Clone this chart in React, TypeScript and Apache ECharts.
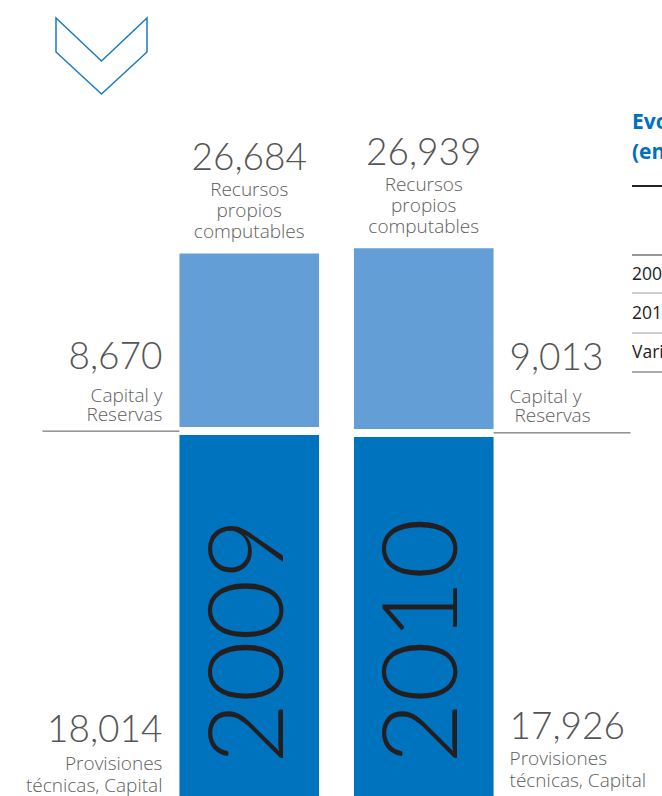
import React, { useEffect, useRef } from "react";
import * as echarts from "echarts";

const years = ["2009", "2010"];
const provisiones = [18014, 17926];
const capitalReservas = [8670, 9013];
const totalLabel = "Recursos\npropios\ncomputables";
const capitalLabels = ["Capital y\nReservas", "Capital y\n Reservas"];
const provLabel = "Provisiones\ntécnicas, Capital";
const tableTitle = ["Evolución del margen de solvencia", "(en millones de euros)"];
const tableRows = ["2009", "2010", "Variación"];

const DARK = "#0073BF";
const LIGHT = "#639FD6";
const NUM = "#555555";
const LAB = "#5e5e5e";
const FONT = "Lato";
const LFONT = "Open Sans";

const fmt = (v: number) => v.toLocaleString("en-US");

export default function App() {
  const ref = useRef<HTMLDivElement>(null);
  useEffect(() => {
    if (!ref.current) return;
    const chart = echarts.init(ref.current, undefined, { renderer: "svg" });
    const renderItem = (params: any, api: any) => {
      const idx = api.value(0);
      const dark = api.value(1);
      const light = api.value(2);
      const base = api.coord([idx, 0]);
      const cx = base[0];
      const B = base[1];
      const D = api.coord([idx, dark])[1];
      const T = api.coord([idx, dark + light])[1];
      const bw = api.size([1, 0])[0] * 0.8;
      const gap = 8;
      const G = D - gap / 2;
      const lightTop = T - gap;
      const isLeft = idx === 0;
      const sideX = isLeft ? cx - bw / 2 - 17 : cx + bw / 2 + 16;
      const align = isLeft ? "right" : "left";
      const lx1 = isLeft ? cx - bw / 2 - 137 : cx + bw / 2;
      const lx2 = isLeft ? cx - bw / 2 : cx + bw / 2 + 137;
      const numStyle = (text: string) => ({
        text,
        fill: NUM,
        fontFamily: FONT,
        fontWeight: 300,
        fontSize: 37,
      });
      const labStyle = (text: string, lh: number) => ({
        text,
        fill: LAB,
        fontFamily: LFONT,
        fontWeight: 300,
        fontSize: 19,
        lineHeight: lh,
      });
      return {
        type: "group",
        children: [
          {
            type: "rect",
            shape: { x: cx - bw / 2, y: D, width: bw, height: B - D },
            style: { fill: DARK },
          },
          {
            type: "rect",
            shape: { x: cx - bw / 2, y: lightTop, width: bw, height: D - gap - lightTop },
            style: { fill: LIGHT },
          },
          {
            type: "line",
            shape: { x1: lx1, y1: G, x2: lx2, y2: G },
            style: { stroke: "#555555", lineWidth: 1 },
          },
          {
            type: "text",
            x: cx,
            y: lightTop - 98,
            style: { ...numStyle(fmt(dark + light)), align: "center", verticalAlign: "middle" },
          },
          {
            type: "text",
            x: cx,
            y: lightTop - 43,
            style: { ...labStyle(totalLabel, 21), align: "center", verticalAlign: "middle" },
          },
          {
            type: "text",
            x: sideX,
            y: G - 77,
            style: { ...numStyle(fmt(light)), align, verticalAlign: "middle" },
          },
          {
            type: "text",
            x: sideX,
            y: G - 27,
            style: { ...labStyle(capitalLabels[idx], 19), align, verticalAlign: "middle" },
          },
          {
            type: "text",
            x: sideX,
            y: B - (isLeft ? 69 : 72),
            style: { ...numStyle(fmt(dark)), align, verticalAlign: "middle" },
          },
          {
            type: "text",
            x: sideX,
            y: B - (isLeft ? 22 : 27),
            style: { ...labStyle(provLabel, 22), align, verticalAlign: "middle" },
          },
          {
            type: "text",
            x: cx - 7,
            y: B - 155,
            rotation: Math.PI / 2,
            scaleX: 1.02,
            style: {
              text: years[idx],
              fill: "#231F20",
              fontFamily: FONT,
              fontWeight: 300,
              fontSize: 104,
              align: "center",
              verticalAlign: "middle",
            },
          },
        ],
      };
    };

    const tableLines = [
      { y: 186, w: 2, c: "#222222" },
      { y: 255, w: 1, c: "#333333" },
      { y: 293, w: 1, c: "#9a9a9a" },
      { y: 333, w: 1, c: "#9a9a9a" },
      { y: 372, w: 1, c: "#555555" },
    ];
    const rowY = [273, 312, 351];

    chart.setOption({
      animation: false,
      grid: { left: 162, right: 151, top: 195, bottom: -5 },
      xAxis: { type: "category", data: years, show: false },
      yAxis: { type: "value", min: 0, max: 30000, show: false },
      series: [
        {
          type: "custom",
          renderItem,
          clip: false,
          data: years.map((_, i) => [i, provisiones[i], capitalReservas[i]]),
        },
      ],
      graphic: [
        {
          type: "polygon",
          shape: {
            points: [
              [56, 18],
              [101.5, 61],
              [147, 18],
              [147, 52],
              [101.5, 94],
              [56, 52],
            ],
          },
          style: { fill: "none", stroke: "#1B7BC3", lineWidth: 1.5 },
        },
        ...tableTitle.map((t, i) => ({
          type: "text",
          x: 632,
          y: i === 0 ? 121 : 151,
          style: {
            text: t,
            fill: "#0070C0",
            fontFamily: "Open Sans",
            fontWeight: 700,
            fontSize: 21,
            align: "left",
            verticalAlign: "middle",
          },
        })),
        ...tableLines.map((l) => ({
          type: "line",
          shape: { x1: 632, y1: l.y, x2: 700, y2: l.y },
          style: { stroke: l.c, lineWidth: l.w },
        })),
        ...tableRows.map((t, i) => ({
          type: "text",
          x: 632,
          y: rowY[i],
          style: {
            text: t,
            fill: "#222222",
            fontFamily: "Open Sans",
            fontSize: 17.5,
            align: "left",
            verticalAlign: "middle",
          },
        })),
      ],
    });
    return () => chart.dispose();
  }, []);
  return (
    <div
      ref={ref}
      style={{ position: "fixed", left: 0, top: 0, width: 662, height: 796, background: "#fff" }}
    />
  );
}
